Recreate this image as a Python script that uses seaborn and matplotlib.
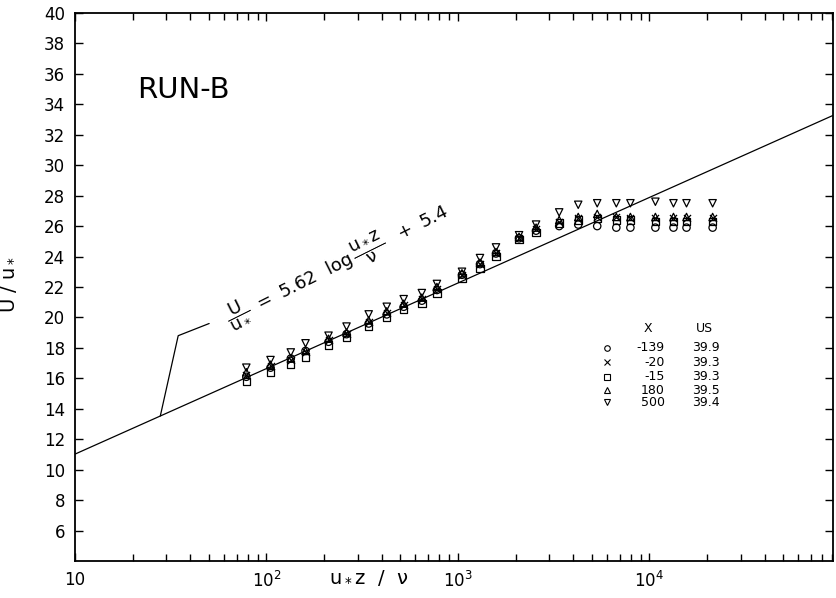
import numpy as np
import pandas as pd
import matplotlib
matplotlib.use("Agg")
import matplotlib.pyplot as plt
import seaborn as sns
from matplotlib.ticker import FixedLocator, FixedFormatter, LogLocator, NullFormatter

# Non-dimensional height u*z/nu of each measuring station
xplus = [78.5, 105, 134, 160, 211, 262, 342, 425, 521, 648, 777, 1050, 1304,
         1581, 2086, 2560, 3380, 4250, 5340, 6720, 7960, 10750, 13360, 15630, 21400]

# U/u* for each streamwise position X (mm)
u_m139 = [16.1, 16.7, 17.3, 17.8, 18.4, 18.9, 19.6, 20.2, 20.7, 21.1, 21.8, 22.8, 23.5,
          24.2, 25.2, 25.7, 26.0, 26.1, 26.0, 25.9, 25.9, 25.9, 25.9, 25.9, 25.9]
u_m20 = [16.2, 16.8, 17.2, 17.7, 18.5, 18.9, 19.7, 20.3, 20.8, 21.2, 21.9, 22.8, 23.5,
         24.2, 25.2, 25.8, 26.3, 26.5, 26.6, 26.6, 26.5, 26.5, 26.5, 26.5, 26.5]
u_m15 = [15.8, 16.4, 16.9, 17.4, 18.2, 18.7, 19.4, 20.0, 20.5, 20.9, 21.6, 22.6, 23.2,
         24.0, 25.1, 25.6, 26.2, 26.4, 26.5, 26.4, 26.4, 26.3, 26.3, 26.3, 26.3]
u_180 = [16.4, 16.9, 17.3, 17.8, 18.6, 19.0, 19.8, 20.4, 20.9, 21.3, 22.0, 22.9, 23.6,
         24.3, 25.3, 25.9, 26.4, 26.6, 26.8, 26.6, 26.6, 26.6, 26.6, 26.6, 26.6]
u_500 = [16.7, 17.2, 17.7, 18.3, 18.8, 19.4, 20.2, 20.7, 21.2, 21.6, 22.2, 23.0, 23.9,
         24.6, 25.4, 26.1, 26.9, 27.4, 27.5, 27.5, 27.5, 27.6, 27.5, 27.5, 27.5]

station_x = ["-139", "-20", "-15", "180", "500"]
station_us = ["39.9", "39.3", "39.3", "39.5", "39.4"]
station_markers = ["o", "x", "s", "^", "v"]

# Log-law constants
kappa_slope = 5.62
log_const = 5.4

xlim = (10, 9.1e4)
ylim = (4, 40)

sns.set_style("ticks")
plt.rcParams["font.family"] = ["DejaVu Sans"]
plt.rcParams["mathtext.default"] = "regular"
for key in ("text.color", "axes.labelcolor", "xtick.color", "ytick.color", "axes.edgecolor"):
    plt.rcParams[key] = "black"

fig = plt.figure(figsize=(8.36, 5.98), dpi=100)
ax = fig.add_axes([0.0897, 0.0619, 0.9067, 0.9164])

series = [u_m139, u_m20, u_m15, u_180, u_500]
frames = []
for xs, vals in zip(station_x, series):
    frames.append(pd.DataFrame({"xplus": xplus, "uplus": vals, "station": xs}))
df = pd.concat(frames, ignore_index=True)

for xs, m in zip(station_x, station_markers):
    sub = df[df["station"] == xs]
    if m == "x":
        sns.scatterplot(data=sub, x="xplus", y="uplus", marker=m, color="k",
                        s=26, linewidth=0.9, ax=ax, zorder=3)
    else:
        sns.scatterplot(data=sub, x="xplus", y="uplus", marker=m,
                        facecolor="none", edgecolor="k", s=28, linewidth=0.9,
                        ax=ax, zorder=3)

# Log law line
xl = np.array(xlim)
ax.plot(xl, kappa_slope * np.log10(xl) + log_const, color="k", lw=0.9, zorder=2)

# Leader from the equation to the line
leader_x = [27.9, 34.6, 50.2]
leader_y = [kappa_slope * np.log10(27.9) + log_const, 18.8, 19.6]
ax.plot(leader_x, leader_y, color="k", lw=0.9)

ax.text(232, 23.5,
        r"$\dfrac{U}{u_*}\ =\ 5.62\ \ \log\dfrac{u_* z}{\nu}\ \ +\ 5.4$",
        rotation=26.5, rotation_mode="anchor", ha="center", va="center",
        fontsize=13)

ax.text(0.082, 0.86, "RUN-B", transform=ax.transAxes, fontsize=21,
        ha="left", va="center")

# Station table
ax.text(0.756, 0.425, "X", transform=ax.transAxes, fontsize=9, ha="center", va="center")
ax.text(0.831, 0.425, "US", transform=ax.transAxes, fontsize=9, ha="center", va="center")
row_y = [0.389, 0.363, 0.336, 0.312, 0.290]
for yy, xs, us, m in zip(row_y, station_x, station_us, station_markers):
    if m == "x":
        ax.plot([0.702], [yy], marker=m, color="k", ms=4, mew=0.8,
                transform=ax.transAxes, ls="none")
    else:
        ax.plot([0.702], [yy], marker=m, mfc="none", mec="k", ms=4, mew=0.8,
                transform=ax.transAxes, ls="none")
    ax.text(0.778, yy, xs, transform=ax.transAxes, fontsize=9, ha="right", va="center")
    ax.text(0.814, yy, us, transform=ax.transAxes, fontsize=9, ha="left", va="center")

ax.set_xscale("log")
ax.set_xlim(*xlim)
ax.set_ylim(*ylim)
ax.xaxis.set_major_locator(FixedLocator([10, 100, 1000, 10000]))
ax.xaxis.set_major_formatter(FixedFormatter(["10", "$10^2$", "$10^3$", "$10^4$"]))
ax.xaxis.set_minor_locator(LogLocator(base=10, subs=np.arange(2, 10), numticks=20))
ax.xaxis.set_minor_formatter(NullFormatter())
ax.set_yticks(np.arange(6, 41, 2))

ax.tick_params(axis="both", which="both", direction="in", top=True, right=True,
               labelsize=12, color="k", width=1.0)
ax.tick_params(axis="both", which="major", length=6, pad=7)
ax.tick_params(axis="x", which="minor", length=5)
for sp in ax.spines.values():
    sp.set_linewidth(1.3)
    sp.set_color("k")

ax.set_xlabel(r"$u_*z\ \ /\ \ \nu$", fontsize=14)
ax.xaxis.set_label_coords(0.387, -0.012)
ax.set_ylabel(r"$U\ /\ u_*$", fontsize=14)
ax.yaxis.set_label_coords(-0.075, 0.505)

fig.savefig("out.png", dpi=100)
